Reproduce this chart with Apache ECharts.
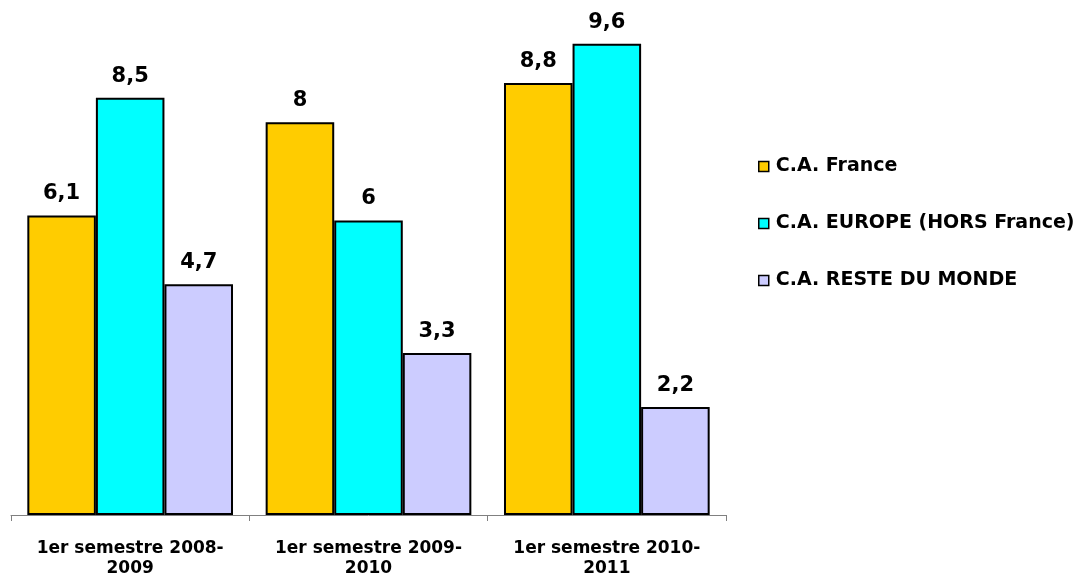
<!DOCTYPE html>
<html>
<head>
<meta charset="utf-8">
<script src="https://cdn.jsdelivr.net/npm/echarts@6/dist/echarts.min.js"></script>
<style>
    html, body { margin: 0; padding: 0; background: #fff; }
    #main { width: 1088px; height: 579px; }
</style>
</head>
<body>
<div id="main"></div>
<script>
// catégories et valeurs
var categories = ["1er semestre 2008-\n2009", "1er semestre 2009-\n2010", "1er semestre 2010-\n2011"];
var seriesNames = ["C.A. France", "C.A. EUROPE (HORS France)", "C.A. RESTE DU MONDE"];
var franceValues = [6.1, 8, 8.8];
var europeValues = [8.5, 6, 9.6];
var mondeValues = [4.7, 3.3, 2.2];
var colors = ["#FFCC00", "#00FFFF", "#CCCCFF"];

var font = "'DejaVu Sans', Verdana, sans-serif";

// étiquette avec virgule décimale
function labelFormat(p) {
    return String(p.value).replace(".", ",");
}

function makeSeries(name, data, color) {
    return {
        name: name,
        type: 'bar',
        data: data,
        barGap: '0%',
        barCategoryGap: '13.7%',
        itemStyle: {
            color: color,
            borderColor: '#000',
            borderWidth: 2
        },
        label: {
            show: true,
            position: 'top',
            distance: 11,
            formatter: labelFormat,
            color: '#000',
            fontFamily: font,
            fontWeight: 'bold',
            fontSize: 21
        }
    };
}

var myChart = echarts.init(document.getElementById('main'));

var option = {
    animation: false,
    color: colors,
    grid: {
        left: 11,
        right: 362,
        top: 24,
        bottom: 63
    },
    legend: {
        orient: 'vertical',
        left: 753,
        top: 152,
        itemGap: 38,
        itemWidth: 10,
        itemHeight: 10,
        icon: 'rect',
        itemStyle: { borderColor: '#000', borderWidth: 1.5 },
        textStyle: {
            color: '#000',
            fontFamily: font,
            fontWeight: 'bold',
            fontSize: 19,
            padding: [0, 0, 0, 2]
        },
        data: seriesNames
    },
    xAxis: {
        type: 'category',
        data: categories,
        axisLine: { lineStyle: { color: '#808080', width: 1 } },
        axisTick: { show: true, interval: 0, length: 6, lineStyle: { color: '#808080' } },
        axisLabel: {
            interval: 0,
            hideOverlap: false,
            color: '#000',
            fontFamily: font,
            fontWeight: 'bold',
            fontSize: 17,
            lineHeight: 20,
            margin: 24
        }
    },
    yAxis: {
        type: 'value',
        min: 0,
        max: 10,
        show: false,
        splitLine: { show: false }
    },
    series: [
        makeSeries(seriesNames[0], franceValues, colors[0]),
        makeSeries(seriesNames[1], europeValues, colors[1]),
        makeSeries(seriesNames[2], mondeValues, colors[2])
    ]
};

myChart.setOption(option);
</script>
</body>
</html>
